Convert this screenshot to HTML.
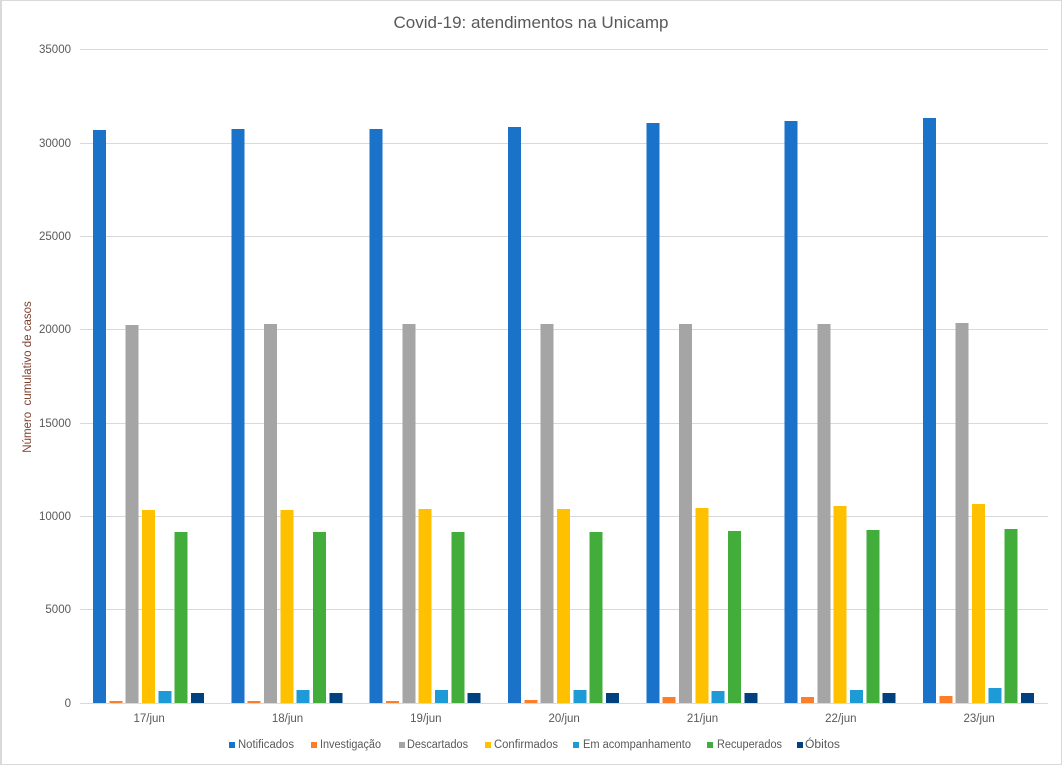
<!DOCTYPE html>
<html><head><meta charset="utf-8"><style>
html,body{margin:0;padding:0;background:#fff;}
svg{display:block;}
text{font-family:"Liberation Sans",sans-serif;}
</style></head><body>
<svg width="1062" height="765" viewBox="0 0 1062 765" xmlns="http://www.w3.org/2000/svg">
<rect x="0.5" y="0.5" width="1061" height="764" fill="#fff" stroke="#d9d9d9" stroke-width="1"/>
<rect x="0" y="0" width="2" height="765" fill="#d9d9d9"/>
<text x="531" y="28" font-size="17" fill="#595959" text-anchor="middle" textLength="275" lengthAdjust="spacingAndGlyphs">Covid-19: atendimentos na Unicamp</text>
<g stroke="#d9d9d9" stroke-width="1" shape-rendering="crispEdges">
<line x1="80" x2="1048" y1="49.5" y2="49.5"/>
<line x1="80" x2="1048" y1="143.5" y2="143.5"/>
<line x1="80" x2="1048" y1="236.5" y2="236.5"/>
<line x1="80" x2="1048" y1="329.5" y2="329.5"/>
<line x1="80" x2="1048" y1="423.5" y2="423.5"/>
<line x1="80" x2="1048" y1="516.5" y2="516.5"/>
<line x1="80" x2="1048" y1="609.5" y2="609.5"/>
<line x1="80" x2="1048" y1="703.5" y2="703.5"/>
</g>
<g font-size="11.5" fill="#595959" text-anchor="end">
<text x="71" y="53">35000</text>
<text x="71" y="147">30000</text>
<text x="71" y="240">25000</text>
<text x="71" y="333">20000</text>
<text x="71" y="427">15000</text>
<text x="71" y="520">10000</text>
<text x="71" y="613">5000</text>
<text x="71" y="707">0</text>
</g>
<text transform="translate(31,377) rotate(-90)" font-size="11.5" fill="#7b3f2e" text-anchor="middle" xml:space="preserve">Número  cumulativo de casos</text>
<g shape-rendering="crispEdges">
<!-- Notificados -->
<g fill="#1a72c9">
<rect x="93" y="130" width="13" height="573"/>
<rect x="231.33" y="129" width="13" height="574"/>
<rect x="369.67" y="129" width="13" height="574"/>
<rect x="508" y="127" width="13" height="576"/>
<rect x="646.33" y="123" width="13" height="580"/>
<rect x="784.67" y="121" width="13" height="582"/>
<rect x="923" y="118" width="13" height="585"/>
</g>
<!-- Investigacao -->
<g fill="#fd7e28">
<rect x="109.33" y="701" width="13" height="2"/>
<rect x="247.67" y="701" width="13" height="2"/>
<rect x="386" y="701" width="13" height="2"/>
<rect x="524.33" y="700" width="13" height="3"/>
<rect x="662.67" y="697" width="13" height="6"/>
<rect x="801" y="697" width="13" height="6"/>
<rect x="939.33" y="696" width="13" height="7"/>
</g>
<!-- Descartados -->
<g fill="#a5a5a5">
<rect x="125.67" y="325" width="13" height="378"/>
<rect x="264" y="324" width="13" height="379"/>
<rect x="402.33" y="324" width="13" height="379"/>
<rect x="540.67" y="324" width="13" height="379"/>
<rect x="679" y="324" width="13" height="379"/>
<rect x="817.33" y="324" width="13" height="379"/>
<rect x="955.67" y="323" width="13" height="380"/>
</g>
<!-- Confirmados -->
<g fill="#ffc000">
<rect x="142" y="510" width="13" height="193"/>
<rect x="280.33" y="510" width="13" height="193"/>
<rect x="418.67" y="509" width="13" height="194"/>
<rect x="557" y="509" width="13" height="194"/>
<rect x="695.33" y="508" width="13" height="195"/>
<rect x="833.67" y="506" width="13" height="197"/>
<rect x="972" y="504" width="13" height="199"/>
</g>
<!-- Em acompanhamento -->
<g fill="#1e9bd7">
<rect x="158.33" y="691" width="13" height="12"/>
<rect x="296.67" y="690" width="13" height="13"/>
<rect x="435" y="690" width="13" height="13"/>
<rect x="573.33" y="690" width="13" height="13"/>
<rect x="711.67" y="691" width="13" height="12"/>
<rect x="850" y="690" width="13" height="13"/>
<rect x="988.33" y="688" width="13" height="15"/>
</g>
<!-- Recuperados -->
<g fill="#43ad3c">
<rect x="174.67" y="532" width="13" height="171"/>
<rect x="313" y="532" width="13" height="171"/>
<rect x="451.33" y="532" width="13" height="171"/>
<rect x="589.67" y="532" width="13" height="171"/>
<rect x="728" y="531" width="13" height="172"/>
<rect x="866.33" y="530" width="13" height="173"/>
<rect x="1004.67" y="529" width="13" height="174"/>
</g>
<!-- Obitos -->
<g fill="#004280">
<rect x="191" y="693" width="13" height="10"/>
<rect x="329.33" y="693" width="13" height="10"/>
<rect x="467.67" y="693" width="13" height="10"/>
<rect x="606" y="693" width="13" height="10"/>
<rect x="744.33" y="693" width="13" height="10"/>
<rect x="882.67" y="693" width="13" height="10"/>
<rect x="1021" y="693" width="13" height="10"/>
</g>
</g>
<g font-size="11.5" fill="#595959" text-anchor="middle">
<text x="149.17" y="722">17/jun</text>
<text x="287.5" y="722">18/jun</text>
<text x="425.83" y="722">19/jun</text>
<text x="564.17" y="722">20/jun</text>
<text x="702.5" y="722">21/jun</text>
<text x="840.83" y="722">22/jun</text>
<text x="979.17" y="722">23/jun</text>
</g>
<g shape-rendering="crispEdges">
<rect x="229" y="742" width="6" height="6" fill="#1a72c9"/>
<rect x="311" y="742" width="6" height="6" fill="#fd7e28"/>
<rect x="399" y="742" width="6" height="6" fill="#a5a5a5"/>
<rect x="485" y="742" width="6" height="6" fill="#ffc000"/>
<rect x="573" y="742" width="6" height="6" fill="#1e9bd7"/>
<rect x="707" y="742" width="6" height="6" fill="#43ad3c"/>
<rect x="797" y="742" width="6" height="6" fill="#004280"/>
</g>
<g font-size="11.5" fill="#595959">
<text x="238" y="748" textLength="56" lengthAdjust="spacingAndGlyphs">Notificados</text>
<text x="320" y="748" textLength="61" lengthAdjust="spacingAndGlyphs">Investigação</text>
<text x="407" y="748" textLength="61" lengthAdjust="spacingAndGlyphs">Descartados</text>
<text x="494" y="748" textLength="64" lengthAdjust="spacingAndGlyphs">Confirmados</text>
<text x="583" y="748" textLength="108" lengthAdjust="spacingAndGlyphs">Em acompanhamento</text>
<text x="717" y="748" textLength="65" lengthAdjust="spacingAndGlyphs">Recuperados</text>
<text x="805" y="748" textLength="35" lengthAdjust="spacingAndGlyphs">Óbitos</text>
</g>
</svg>
</body></html>
